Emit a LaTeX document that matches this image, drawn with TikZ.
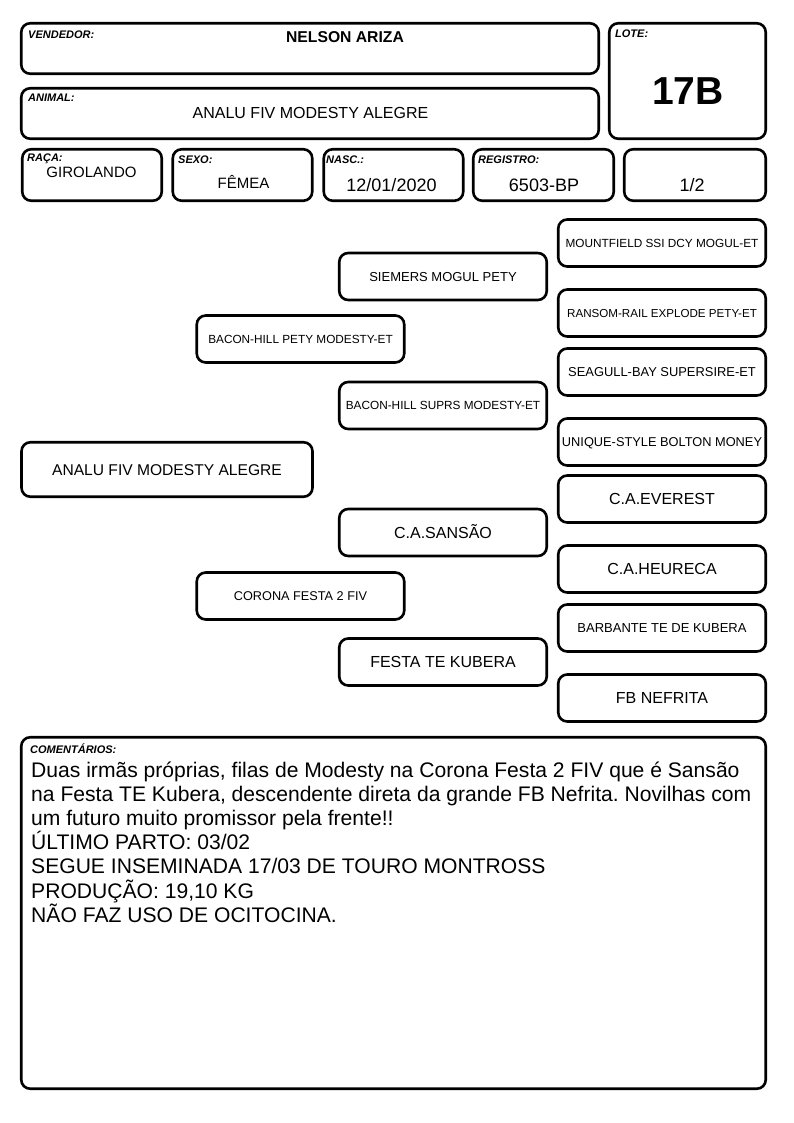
\documentclass[tikz,border=0pt]{standalone}
\usepackage{fontspec}
\setmainfont{Liberation Sans}
\frenchspacing
\newcommand\fsz[1]{\fontsize{#1}{#1}\selectfont}
\tikzset{
  box/.style={draw=black, line width=2.6pt, rounded corners=9pt, inner sep=0pt, fill=white},
  pbox/.style={box, minimum width=207.5pt, minimum height=47pt, text depth=0pt},
  bg/.style={font=\fsz{16}, text height=11.5pt},
  lab/.style={font=\fsz{11}\bfseries\itshape, anchor=base west, inner sep=0pt},
  val/.style={anchor=base, inner sep=0pt},
  cmt/.style={font=\fsz{21.1}, anchor=base west, inner sep=0pt},
}
\begin{document}
\begin{tikzpicture}[x=1pt,y=-1pt]
\useasboundingbox[fill=white] (0,0) rectangle (794,1123);

% header boxes
\node[box, minimum width=577.5pt, minimum height=50.5pt] (vend) at (310,48.5) {};
\node[box, minimum width=577.5pt, minimum height=50.5pt] (anim) at (310,113.5) {};
\node[box, minimum width=156.5pt, minimum height=115.5pt] (lote) at (687.5,81) {};
\node[box, minimum width=139.5pt, minimum height=51.5pt] (raca) at (92,175) {};
\node[box, minimum width=139.5pt, minimum height=51.5pt] (sexo) at (242.5,175) {};
\node[box, minimum width=139.5pt, minimum height=51.5pt] (nasc) at (393.5,175) {};
\node[box, minimum width=140.5pt, minimum height=51.5pt] (reg) at (543.5,175) {};
\node[box, minimum width=141.5pt, minimum height=51.5pt] (half) at (695,175) {};

\node[lab] (vendl) at (28,39) {VENDEDOR:};
\node[val, font=\fsz{15.7}\bfseries] (vendv) at (345,43) {NELSON ARIZA};
\node[lab] (animl) at (28,102) {ANIMAL:};
\node[val, font=\fsz{16}] (animv) at (310.5,119) {ANALU FIV MODESTY ALEGRE};
\node[lab] (lotel) at (615,38) {LOTE:};
\node[val, font=\fsz{39}\bfseries] (lotev) at (688,105) {17B};
\node[lab] (racal) at (27,162) {RAÇA:};
\node[val, font=\fsz{15}] (racav) at (91.5,178) {GIROLANDO};
\node[lab] (sexol) at (178,164) {SEXO:};
\node[val, font=\fsz{15}] (sexov) at (243.5,189) {FÊMEA};
\node[lab] (nascl) at (326,164) {NASC.:};
\node[val, font=\fsz{18}] (nascv) at (391.5,192) {12/01/2020};
\node[lab] (regl) at (478,164) {REGISTRO:};
\node[val, font=\fsz{18}] (regv) at (544,192) {6503-BP};
\node[val, font=\fsz{18}] (halfv) at (692,192) {1/2};

% pedigree
\node[box, minimum width=291pt, minimum height=54.5pt, font=\fsz{15.6}, text height=11.2pt, text depth=0pt] (p0) at (167,469.5) {ANALU FIV MODESTY ALEGRE};

\node[pbox, font=\fsz{11.8}, text height=8.5pt] (p1) at (300.5,339) {BACON-HILL PETY MODESTY-ET};
\node[pbox, font=\fsz{12.7}, text height=9.1pt] (p2) at (300.5,596) {CORONA FESTA 2 FIV};

\node[pbox, font=\fsz{13}, text height=9.3pt] (p3) at (443,276.5) {SIEMERS MOGUL PETY};
\node[pbox, font=\fsz{11.8}, text height=8.5pt] (p4) at (443,405.5) {BACON-HILL SUPRS MODESTY-ET};
\node[pbox, bg] (p5) at (443,532.5) {C.A.SANSÃO};
\node[pbox, bg] (p6) at (443,662) {FESTA TE KUBERA};

\node[pbox, font=\fsz{11.8}, text height=8.5pt] (p7) at (662,243) {MOUNTFIELD SSI DCY MOGUL-ET};
\node[pbox, font=\fsz{11.6}, text height=8.3pt] (p8) at (662,313) {RANSOM-RAIL EXPLODE PETY-ET};
\node[pbox, font=\fsz{12.9}, text height=9.2pt] (p9) at (662,372) {SEAGULL-BAY SUPERSIRE-ET};
\node[pbox, font=\fsz{12.8}, text height=9.2pt] (p10) at (662,442) {UNIQUE-STYLE BOLTON MONEY};
\node[pbox, bg] (p11) at (662,499) {C.A.EVEREST};
\node[pbox, bg] (p12) at (662,569) {C.A.HEURECA};
\node[pbox, font=\fsz{13}, text height=9.3pt] (p13) at (662,628) {BARBANTE TE DE KUBERA};
\node[pbox, bg] (p14) at (662,698) {FB NEFRITA};

% comments
\node[box, minimum width=744.5pt, minimum height=351.5pt] (com) at (393.5,913) {};
\node[lab] (coml) at (30,753) {COMENTÁRIOS:};
\node[cmt] (c1) at (31,777.5) {Duas irmãs próprias, filas de Modesty na Corona Festa 2 FIV que é Sansão};
\node[cmt] (c2) at (31,801.6) {na Festa TE Kubera, descendente direta da grande FB Nefrita. Novilhas com};
\node[cmt] (c3) at (31,825.7) {um futuro muito promissor pela frente!!};
\node[cmt] (c4) at (31,849.8) {ÚLTIMO PARTO: 03/02};
\node[cmt] (c5) at (31,873.9) {SEGUE INSEMINADA 17/03 DE TOURO MONTROSS};
\node[cmt] (c6) at (31,898) {PRODUÇÃO: 19,10 KG};
\node[cmt] (c7) at (31,922.1) {NÃO FAZ USO DE OCITOCINA.};
\end{tikzpicture}
\end{document}
